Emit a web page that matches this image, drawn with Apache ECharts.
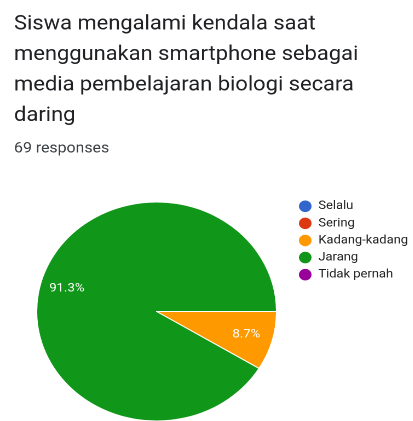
<!DOCTYPE html>
<html>
<head>
<meta charset="utf-8">
<script src="https://cdn.jsdelivr.net/npm/echarts@6/dist/echarts.min.js"></script>
<style>
  html, body { margin: 0; padding: 0; background: #fff; overflow: hidden; }
  /* the chart is laid out a little narrower and widened to the full 413px frame */
  #chart { width: 377px; height: 421px; transform: scaleX(1.095); transform-origin: 0 0; }
</style>
</head>
<body>
<div id="chart"></div>
<script>
// Survey question and response count
const questionText = 'Siswa mengalami kendala saat\nmenggunakan smartphone sebagai\nmedia pembelajaran biologi secara\ndaring';
const responseCount = 69;

// Answer options and how many students picked each
const answerOptions = ['Selalu', 'Sering', 'Kadang-kadang', 'Jarang', 'Tidak pernah'];
const answerCounts = [0, 0, 6, 63, 0];
const answerColors = ['#3366cc', '#dc3912', '#ff9900', '#109618', '#990099'];

const FONT = 'Roboto, "Noto Sans", sans-serif';
const PIE_CENTER = [143, 311.5];
const PIE_RADIUS = 109.5;

const pieData = answerOptions.map((name, i) => ({
  name,
  value: answerCounts[i],
  itemStyle: { color: answerColors[i] }
}));

const chart = echarts.init(document.getElementById('chart'), null, { renderer: 'canvas', devicePixelRatio: 2 });

chart.setOption({
  animation: false,
  backgroundColor: '#ffffff',
  title: [
    {
      text: questionText,
      left: 12.8,
      top: 9,
      padding: 0,
      textStyle: { fontFamily: FONT, fontSize: 20, fontWeight: 'normal', color: '#202124', lineHeight: 30.5 }
    },
    {
      text: responseCount + ' responses',
      left: 12.8,
      top: 139,
      padding: 0,
      textStyle: { fontFamily: FONT, fontSize: 14.5, fontWeight: 'normal', color: '#3c4043', lineHeight: 20 }
    }
  ],
  legend: {
    orient: 'vertical',
    left: 271,
    top: 198.5,
    padding: 0,
    icon: 'circle',
    itemWidth: 14,
    itemHeight: 13.5,
    itemGap: 1.6,
    selectedMode: false,
    data: answerOptions,
    textStyle: { fontFamily: FONT, fontSize: 11.8, color: '#222222', lineHeight: 13.5 }
  },
  series: [
    {
      // visible slices
      type: 'pie',
      center: PIE_CENTER,
      radius: [0, PIE_RADIUS],
      startAngle: 0,
      clockwise: true,
      silent: true,
      label: { show: false },
      labelLine: { show: false },
      itemStyle: { borderColor: '#ffffff', borderWidth: 1 },
      data: pieData
    },
    {
      // percentage labels, placed about three quarters of the way out
      type: 'pie',
      center: PIE_CENTER,
      radius: [0, PIE_RADIUS * 1.5],
      startAngle: 0,
      clockwise: true,
      silent: true,
      percentPrecision: 1,
      itemStyle: { color: 'rgba(0,0,0,0)', borderWidth: 0 },
      labelLine: { show: false },
      label: {
        show: true,
        position: 'inside',
        fontFamily: FONT,
        fontSize: 12,
        color: '#ffffff',
        padding: [6, 0, 0, 0],
        formatter: p => (p.value > 0 ? p.percent.toFixed(1) + '%' : '')
      },
      data: answerOptions.map((name, i) => ({ name, value: answerCounts[i] }))
    }
  ]
});
</script>
</body>
</html>
